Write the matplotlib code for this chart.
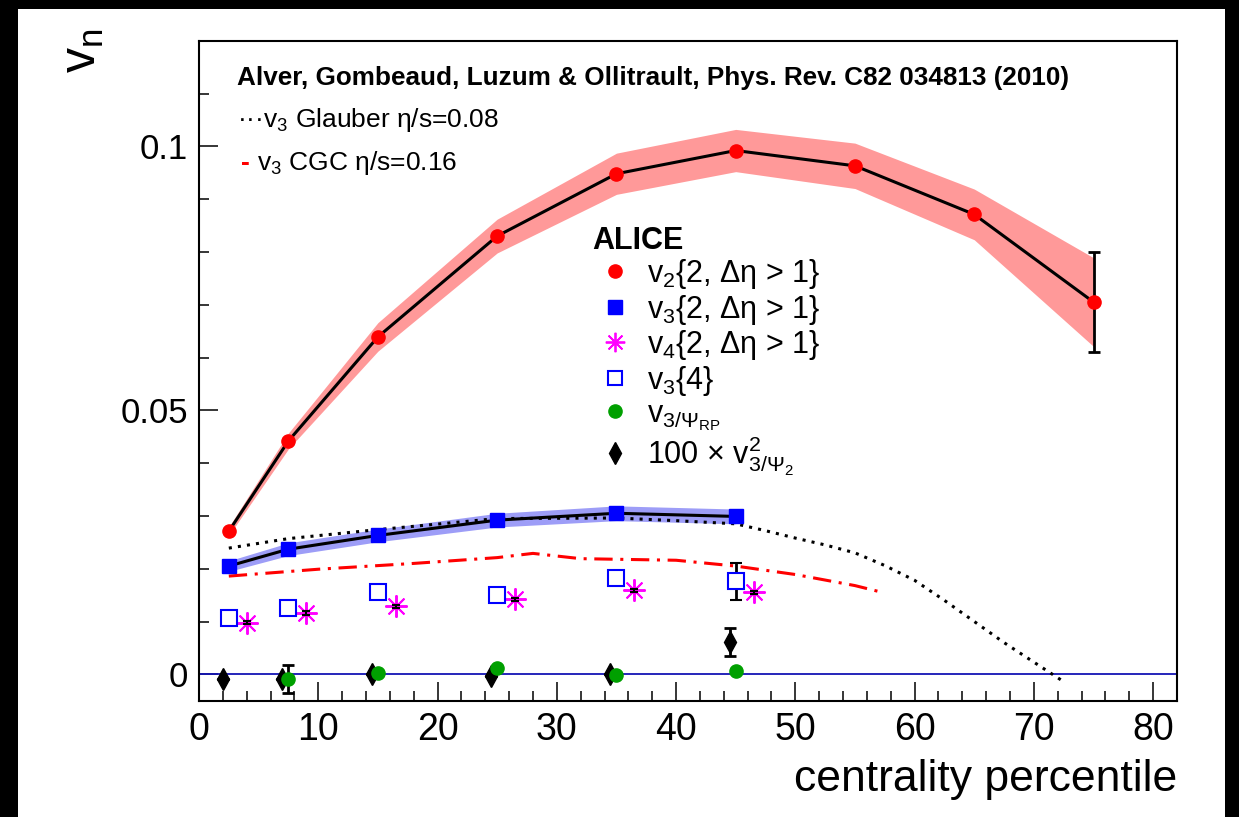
import numpy as np
import matplotlib
matplotlib.use("Agg")
import matplotlib.pyplot as plt
from matplotlib.lines import Line2D
from matplotlib.patches import Rectangle
from matplotlib.ticker import MultipleLocator, FixedLocator

plt.rcParams["font.family"] = ["Liberation Sans", "DejaVu Sans"]
plt.rcParams["mathtext.fontset"] = "custom"
plt.rcParams["mathtext.rm"] = "Liberation Sans"
plt.rcParams["mathtext.it"] = "Liberation Sans:italic"
plt.rcParams["mathtext.bf"] = "Liberation Sans:bold"
plt.rcParams["mathtext.default"] = "regular"

# ALICE v2{2, deta>1}
v2_x = [2.5, 7.5, 15, 25, 35, 45, 55, 65, 75]
v2_y = [0.0271, 0.0442, 0.0639, 0.0830, 0.0948, 0.0992, 0.0963, 0.0871, 0.0705]
v2_sys = [0.0008, 0.0015, 0.0027, 0.0032, 0.0039, 0.0040, 0.0043, 0.0048, 0.0084]
v2_err = [0, 0, 0, 0, 0, 0, 0, 0, 0.0095]

# ALICE v3{2, deta>1}
v3_x = [2.5, 7.5, 15, 25, 35, 45]
v3_y = [0.0205, 0.0237, 0.0263, 0.0292, 0.0305, 0.0299]
v3_sys = [0.0010, 0.0012, 0.0012, 0.0013, 0.0014, 0.0014]

# ALICE v4{2, deta>1}
v4_x = [4, 9, 16.5, 26.5, 36.5, 46.5]
v4_y = [0.0098, 0.0116, 0.0129, 0.0142, 0.0159, 0.0155]
v4_err = [0.0003, 0.0003, 0.0003, 0.0003, 0.0003, 0.0003]

# ALICE v3{4}
v34_x = [2.5, 7.5, 15, 25, 35, 45]
v34_y = [0.0106, 0.0125, 0.0155, 0.0150, 0.0182, 0.0176]
v34_err = [0.0004, 0.0005, 0.0006, 0.0012, 0.0012, 0.0035]

# v3/Psi_RP
vrp_x = [7.5, 15, 25, 35, 45]
vrp_y = [-0.0009, 0.0003, 0.0012, -0.0002, 0.0006]
vrp_err = [0.0027, 0, 0, 0, 0]

# 100 x v3/Psi2 ^2
vpsi_x = [2, 7, 14.5, 24.5, 34.5, 44.5]
vpsi_y = [-0.0008, -0.0008, 0.0001, -0.0003, 0.0001, 0.0061]
vpsi_err = [0, 0, 0, 0, 0, 0.0026]

# hydro predictions (Alver et al.)
glauber_x = [2.5, 7.5, 15, 25, 35, 40, 45, 47.5, 50, 52.5, 55, 57.5, 60,
             62.5, 65, 67.5, 70, 72.3]
glauber_y = [0.0239, 0.0257, 0.0274, 0.0295, 0.0296, 0.0291, 0.0285, 0.0272,
             0.0258, 0.0245, 0.0230, 0.0206, 0.0178, 0.0140, 0.0100, 0.0060,
             0.0023, -0.0011]
cgc_x = [2.5, 10, 18, 25, 28, 32, 40, 45, 50, 55, 57.5]
cgc_y = [0.0186, 0.0199, 0.0210, 0.0221, 0.0229, 0.0219, 0.0216, 0.0205,
         0.0189, 0.0168, 0.0154]

fig = plt.figure(figsize=(12.39, 8.17), dpi=100, facecolor="black")
fig.patches.append(Rectangle((18 / 1239, 0), 1207 / 1239, 808 / 817,
                             transform=fig.transFigure, facecolor="white",
                             edgecolor="none", zorder=-10))
ax = fig.add_axes([199 / 1239, 1 - 700.7 / 817, 978 / 1239, 660 / 817])

ax.set_xlim(0, 82)
ax.set_ylim(-0.005, 0.12)

# systematic bands
ax.fill_between(v2_x, np.array(v2_y) - v2_sys, np.array(v2_y) + v2_sys,
                color="#ff9999", lw=0, zorder=1)
ax.fill_between(v3_x, np.array(v3_y) - v3_sys, np.array(v3_y) + v3_sys,
                color="#9d9df7", lw=0, zorder=1)
ax.plot(v2_x, v2_y, color="black", lw=2.2, zorder=2)
ax.plot(v3_x, v3_y, color="black", lw=2.2, zorder=2)

ax.axhline(0, color="#1414b4", lw=1.3, zorder=2)

ax.plot(glauber_x, glauber_y, color="black", lw=2.2, ls=(0, (1, 2)), zorder=3)
ax.plot(cgc_x, cgc_y, color="#ff0000", lw=2.2, ls=(0, (6, 2.5, 1, 2.5)), zorder=3)

ebkw = dict(ecolor="black", elinewidth=2, capsize=4, capthick=2, ls="none")
ax.errorbar(v2_x, v2_y, yerr=v2_err, fmt="o", color="#ff0000", ms=9.5,
            zorder=5, **ebkw)
ax.errorbar(v3_x, v3_y, fmt="s", color="#0000ff", ms=9.5, zorder=5, ls="none")
ax.errorbar(v4_x, v4_y, yerr=v4_err, fmt="none", zorder=6, ecolor="black",
            elinewidth=1.5, capsize=3, capthick=1.5)
ax.plot(v4_x, v4_y, marker=(8, 2, 0), color="#ff00ff", ms=16, mew=1.4,
        ls="none", zorder=5)
ax.errorbar(v34_x, v34_y, yerr=v34_err, fmt="s", mfc="white", mec="#0000ff",
            mew=1.5, ms=11, zorder=5, **ebkw)
ax.errorbar(vpsi_x, vpsi_y, yerr=vpsi_err, fmt="d", color="black", ms=11,
            zorder=5, **ebkw)
ax.errorbar(vrp_x, vrp_y, yerr=vrp_err, fmt="o", color="#00a000", ms=9.5,
            zorder=6, **ebkw)

# axes style (ROOT like)
for side in ["top", "right", "left", "bottom"]:
    ax.spines[side].set_linewidth(1.5)
ax.xaxis.set_major_locator(MultipleLocator(10))
ax.xaxis.set_minor_locator(MultipleLocator(2))
ax.yaxis.set_major_locator(FixedLocator([0, 0.05, 0.1]))
ax.yaxis.set_minor_locator(MultipleLocator(0.01))
ax.set_yticklabels(["0", "0.05", "0.1"])
ax.tick_params(which="both", direction="in", width=1.1, top=False, right=False)
ax.tick_params(which="major", length=14)
ax.tick_params(which="minor", length=7)
ax.tick_params(axis="x", labelsize=27, pad=8)
ax.tick_params(axis="y", labelsize=25, pad=8)

ax.set_xlabel("centrality percentile", fontsize=32, loc="right")
ax.xaxis.set_label_coords(1.0, -0.088)
ax.set_ylabel("v$_n$", fontsize=36, loc="top")
ax.yaxis.set_label_coords(-0.095, 1.018)

ax.text(0.0389, 0.9435, "Alver, Gombeaud, Luzum & Ollitrault, Phys. Rev. C82 034813 (2010)",
        transform=ax.transAxes, fontsize=18.8, fontweight="bold", va="center")
ax.text(0.0389, 0.880, "···v$_3$ Glauber η/s=0.08", transform=ax.transAxes,
        fontsize=19, va="center")
ax.text(0.0430, 0.815, "-", transform=ax.transAxes, fontsize=19, va="center",
        color="#ff0000", fontweight="bold")
ax.text(0.0593, 0.815, "v$_3$ CGC η/s=0.16", transform=ax.transAxes,
        fontsize=19, va="center")

handles = [
    Line2D([], [], marker="o", color="#ff0000", ms=9.5, ls="none"),
    Line2D([], [], marker="s", color="#0000ff", ms=9.5, ls="none"),
    Line2D([], [], marker=(8, 2, 0), color="#ff00ff", ms=14, mew=1.3, ls="none"),
    Line2D([], [], marker="s", mfc="white", mec="#0000ff", mew=1.5, ms=10.5, ls="none"),
    Line2D([], [], marker="o", color="#00a000", ms=9.5, ls="none"),
    Line2D([], [], marker="d", color="black", ms=11, ls="none"),
]
labels = [
    "v$_2${2, Δη > 1}",
    "v$_3${2, Δη > 1}",
    "v$_4${2, Δη > 1}",
    "v$_3${4}",
    "v$_{3/\\Psi_{RP}}$",
    "100 × v$^2_{3/\\Psi_2}$",
]
leg = ax.legend(handles, labels, loc="upper left", bbox_to_anchor=(0.402, 0.72),
                frameon=False, fontsize=22, handlelength=1.5, handletextpad=0.3,
                labelspacing=0.05, borderpad=0, borderaxespad=0,
                title="ALICE", title_fontproperties={"weight": "bold", "size": 22},
                alignment="left")

fig.savefig("out.png", dpi=100, facecolor=fig.get_facecolor())
